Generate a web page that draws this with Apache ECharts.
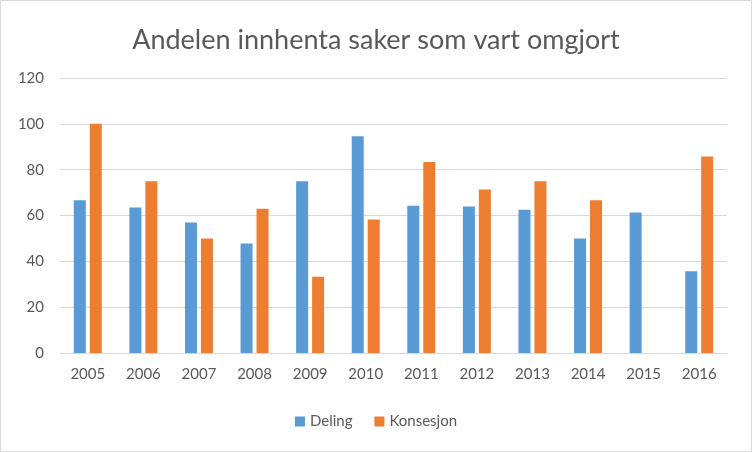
<!DOCTYPE html>
<html>
<head>
<meta charset="utf-8">
<script src="https://cdn.jsdelivr.net/npm/echarts@6/dist/echarts.min.js"></script>
<style>
  html, body { margin: 0; padding: 0; background: #fff; }
  #chart { width: 752px; height: 452px; box-sizing: border-box; border: 1px solid #d9d9d9; }
</style>
</head>
<body>
<div id="chart"></div>
<script>
var years = ["2005", "2006", "2007", "2008", "2009", "2010", "2011", "2012", "2013", "2014", "2015", "2016"];
var deling = [66.7, 63.5, 57, 47.8, 75, 94.6, 64.3, 63.9, 62.5, 50, 61.3, 35.7];
var konsesjon = [100, 75, 50, 63, 33.3, 58.3, 83.3, 71.4, 75, 66.7, null, 85.7];
var yTicks = { min: 0, max: 120, interval: 20 };

var font = "Lato, 'Open Sans', sans-serif";
var chart = echarts.init(document.getElementById("chart"));
chart.setOption({
  animation: false,
  color: ["#5B9BD5", "#ED7D31"],
  title: {
    text: "Andelen innhenta saker som vart omgjort",
    left: "center",
    top: 21,
    textStyle: { color: "#595959", fontSize: 27, fontWeight: "normal", fontFamily: font }
  },
  legend: {
    bottom: 17,
    left: "center",
    itemWidth: 10,
    itemHeight: 10,
    itemGap: 22,
    icon: "rect",
    textStyle: { color: "#595959", fontSize: 15, fontFamily: font },
    data: ["Deling", "Konsesjon"]
  },
  grid: { left: 59, right: 24, top: 77, bottom: 98 },
  xAxis: {
    type: "category",
    data: years,
    axisTick: { show: false },
    axisLine: { lineStyle: { color: "#d9d9d9" } },
    axisLabel: { color: "#595959", fontSize: 15, fontFamily: font, margin: 14 }
  },
  yAxis: {
    type: "value",
    min: yTicks.min,
    max: yTicks.max,
    interval: yTicks.interval,
    axisLine: { show: false },
    axisTick: { show: false },
    splitLine: { lineStyle: { color: "#d9d9d9" } },
    axisLabel: { color: "#595959", fontSize: 15, fontFamily: font, margin: 16 }
  },
  series: [
    { name: "Deling", type: "bar", data: deling, barWidth: 12, barGap: "33%" },
    { name: "Konsesjon", type: "bar", data: konsesjon, barWidth: 12, barGap: "33%" }
  ]
});
</script>
</body>
</html>
